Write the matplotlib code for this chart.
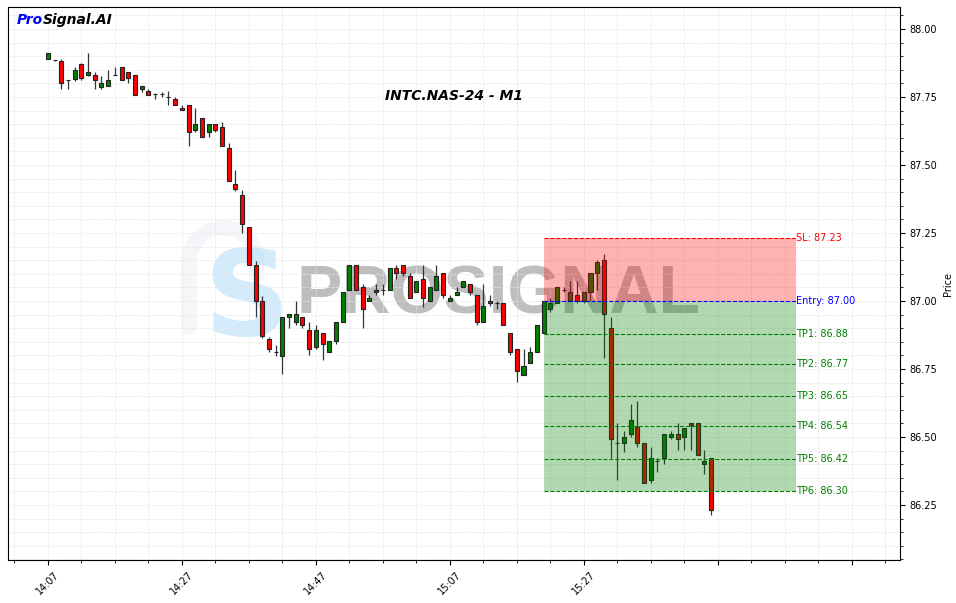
import matplotlib
matplotlib.use("Agg")
import matplotlib.pyplot as plt
import numpy as np
from matplotlib.ticker import MultipleLocator, FuncFormatter

# candle data, one bar per minute starting 14:07
start_hour, start_min = 14, 7
opens = [87.889, 87.886, 87.882, 87.812, 87.817, 87.870, 87.830, 87.830, 87.788, 87.789,
         87.831, 87.859, 87.841, 87.830, 87.778, 87.772, 87.760, 87.760, 87.749, 87.743,
         87.710, 87.719, 87.630, 87.672, 87.620, 87.650, 87.639, 87.561, 87.430, 87.389,
         87.271, 87.131, 86.999, 86.859, 86.811, 86.799, 86.940, 86.922, 86.940, 86.892,
         86.830, 86.881, 86.811, 86.852, 86.922, 87.040, 87.131, 87.050, 86.999, 87.032,
         87.039, 87.039, 87.120, 87.131, 87.092, 87.032, 87.080, 86.999, 87.039, 87.102,
         86.999, 87.021, 87.050, 87.061, 87.021, 86.922, 86.992, 86.992, 86.992, 86.881,
         86.822, 86.730, 86.771, 86.811, 86.881, 86.970, 86.992, 87.039, 87.000, 87.021,
         87.000, 87.032, 87.102, 87.150, 86.900, 86.480, 86.480, 86.510, 86.538, 86.480,
         86.341, 86.413, 86.422, 86.502, 86.510, 86.502, 86.550, 86.550, 86.400, 86.422]
highs = [87.911, 87.888, 87.889, 87.812, 87.861, 87.874, 87.913, 87.842, 87.827, 87.848,
         87.859, 87.859, 87.841, 87.830, 87.789, 87.780, 87.766, 87.769, 87.772, 87.749,
         87.719, 87.719, 87.708, 87.672, 87.650, 87.650, 87.659, 87.580, 87.482, 87.408,
         87.271, 87.148, 87.020, 86.869, 86.838, 86.940, 86.951, 86.999, 86.940, 86.922,
         86.911, 86.881, 86.852, 86.922, 87.032, 87.131, 87.131, 87.061, 87.021, 87.061,
         87.061, 87.120, 87.131, 87.131, 87.102, 87.072, 87.131, 87.050, 87.131, 87.102,
         87.021, 87.050, 87.072, 87.061, 87.021, 87.061, 87.021, 86.999, 86.992, 86.881,
         86.822, 86.822, 86.830, 86.911, 86.999, 87.010, 87.050, 87.050, 87.072, 87.072,
         87.032, 87.102, 87.150, 87.172, 86.940, 86.550, 86.521, 86.620, 86.631, 86.480,
         86.462, 86.422, 86.510, 86.521, 86.550, 86.532, 86.550, 86.550, 86.451, 86.422]
lows = [87.889, 87.884, 87.778, 87.779, 87.809, 87.812, 87.827, 87.778, 87.778, 87.789,
        87.831, 87.811, 87.800, 87.758, 87.770, 87.758, 87.743, 87.750, 87.719, 87.719,
        87.701, 87.570, 87.621, 87.602, 87.602, 87.620, 87.570, 87.440, 87.404, 87.249,
        87.131, 86.940, 86.863, 86.811, 86.798, 86.732, 86.900, 86.911, 86.900, 86.801,
        86.822, 86.783, 86.811, 86.841, 86.922, 87.040, 87.040, 86.900, 86.999, 87.021,
        87.021, 87.039, 87.081, 87.092, 87.010, 87.032, 86.979, 86.999, 87.039, 87.010,
        86.999, 87.021, 87.050, 87.021, 86.911, 86.922, 86.980, 86.970, 86.911, 86.800,
        86.701, 86.730, 86.771, 86.811, 86.881, 86.961, 86.992, 87.035, 87.000, 86.992,
        86.992, 87.000, 87.039, 86.789, 86.422, 86.342, 86.444, 86.502, 86.462, 86.330,
        86.330, 86.370, 86.400, 86.492, 86.451, 86.451, 86.451, 86.433, 86.363, 86.213]
closes = [87.911, 87.886, 87.800, 87.812, 87.849, 87.819, 87.842, 87.811, 87.800, 87.813,
          87.831, 87.811, 87.819, 87.758, 87.789, 87.758, 87.760, 87.760, 87.749, 87.719,
          87.701, 87.620, 87.650, 87.602, 87.650, 87.630, 87.570, 87.440, 87.411, 87.282,
          87.131, 86.999, 86.870, 86.822, 86.811, 86.940, 86.951, 86.951, 86.911, 86.822,
          86.892, 86.841, 86.852, 86.922, 87.032, 87.131, 87.040, 86.970, 87.010, 87.039,
          87.039, 87.120, 87.102, 87.102, 87.010, 87.072, 87.010, 87.050, 87.092, 87.021,
          87.010, 87.032, 87.072, 87.032, 86.922, 86.980, 86.999, 86.992, 86.911, 86.812,
          86.742, 86.760, 86.811, 86.911, 86.999, 86.992, 87.050, 87.039, 87.032, 87.000,
          87.032, 87.102, 87.142, 86.951, 86.492, 86.480, 86.502, 86.562, 86.480, 86.330,
          86.422, 86.413, 86.510, 86.510, 86.492, 86.532, 86.543, 86.433, 86.411, 86.232]

# signal levels
entry_idx = 74
box_end = 111.7
sl = 87.23
entry = 87.00
tps = [86.88, 86.77, 86.65, 86.54, 86.42, 86.30]

n = len(opens)
times = ["%02d:%02d" % ((start_hour * 60 + start_min + i) // 60,
                        (start_hour * 60 + start_min + i) % 60) for i in range(n)]

fig = plt.figure(figsize=(9.56, 6.03), dpi=100)
ax = fig.add_axes([0.0084, 0.0713, 0.933, 0.9166])

# watermark (logo arch + S + word)
ang = np.linspace(np.pi, 0, 40)
arch_x = np.concatenate([[189, 189], 223 + 34 * np.cos(ang), [257]])
arch_y = np.concatenate([[328, 262], 262 - 34 * np.sin(ang), [275]])
ax.plot((arch_x - 8) / 892, (560 - arch_y) / 552, transform=ax.transAxes,
        color="#f4f6f9", lw=11, solid_capstyle="round", zorder=0.4)
ax.text(0.267, 0.466, "S", transform=ax.transAxes, fontsize=86, fontweight="bold",
        color="#a8d8f8", alpha=0.5, ha="center", va="center", zorder=0.5)
ax.text(0.55, 0.478, "PROSIGNAL", transform=ax.transAxes, fontsize=49,
        fontweight="bold", family="Liberation Sans", color="#8a8a8a", alpha=0.55,
        ha="center", va="center", zorder=0.5)

# candles
for i in range(n):
    o, h, l, c = opens[i], highs[i], lows[i], closes[i]
    col = "green" if c >= o else "red"
    ax.vlines(i, l, h, color="#333333", lw=0.9, zorder=2)
    ax.bar(i, c - o, bottom=o, width=0.6, color=col, edgecolor="#222222",
           linewidth=0.8, zorder=3)

# signal boxes and levels
ax.fill_between([entry_idx, box_end], entry, sl, color="red", alpha=0.3, lw=0, zorder=4)
ax.fill_between([entry_idx, box_end], tps[-1], entry, color="green", alpha=0.3, lw=0, zorder=4)
ax.hlines(sl, entry_idx, box_end, colors="red", linestyles="--", lw=0.8, zorder=5)
ax.text(box_end, sl, "SL: %.2f" % sl, color="red", fontsize=7, va="center", ha="left")
ax.hlines(entry, entry_idx, box_end, colors="blue", linestyles="--", lw=0.8, zorder=5)
ax.text(box_end, entry, "Entry: %.2f" % entry, color="blue", fontsize=7, va="center", ha="left")
for k, tp in enumerate(tps):
    ax.hlines(tp, entry_idx, box_end, colors="green", linestyles="--", lw=0.8, zorder=5)
    ax.text(box_end, tp, "TP%d: %.2f" % (k + 1, tp), color="green", fontsize=7,
            va="center", ha="left")

ax.set_xlim(-5.95, 127.2)
ax.set_ylim(86.048, 88.080)

ax.xaxis.set_major_locator(MultipleLocator(20))
ax.xaxis.set_minor_locator(MultipleLocator(5))
ax.xaxis.set_major_formatter(FuncFormatter(
    lambda v, p: times[int(round(v))] if 0 <= int(round(v)) < n else ""))
ax.yaxis.set_major_locator(MultipleLocator(0.25))
ax.yaxis.set_minor_locator(MultipleLocator(0.05))
ax.yaxis.set_major_formatter(FuncFormatter(lambda v, p: "%.2f" % v))
ax.yaxis.tick_right()
ax.yaxis.set_label_position("right")
ax.set_ylabel("Price", fontsize=7)
ax.tick_params(labelsize=7)
plt.setp(ax.get_xticklabels(), rotation=45)

ax.grid(True, which="both", color="#e6e6e6", linestyle="--", linewidth=0.5, zorder=0)
ax.set_axisbelow(True)

ax.text(0.5, 0.84, "INTC.NAS-24 - M1", transform=ax.transAxes, fontsize=10,
        fontweight="bold", style="italic", ha="center", va="center")
t1 = ax.text(0.0095, 0.99, "Pro", transform=ax.transAxes, fontsize=10,
             fontweight="bold", style="italic", color="blue", ha="left", va="top")
ax.annotate("Signal.AI", xy=(1, 0), xycoords=t1, fontsize=10, fontweight="bold",
            style="italic", color="black", ha="left", va="bottom")

fig.savefig("out.png", dpi=100)
